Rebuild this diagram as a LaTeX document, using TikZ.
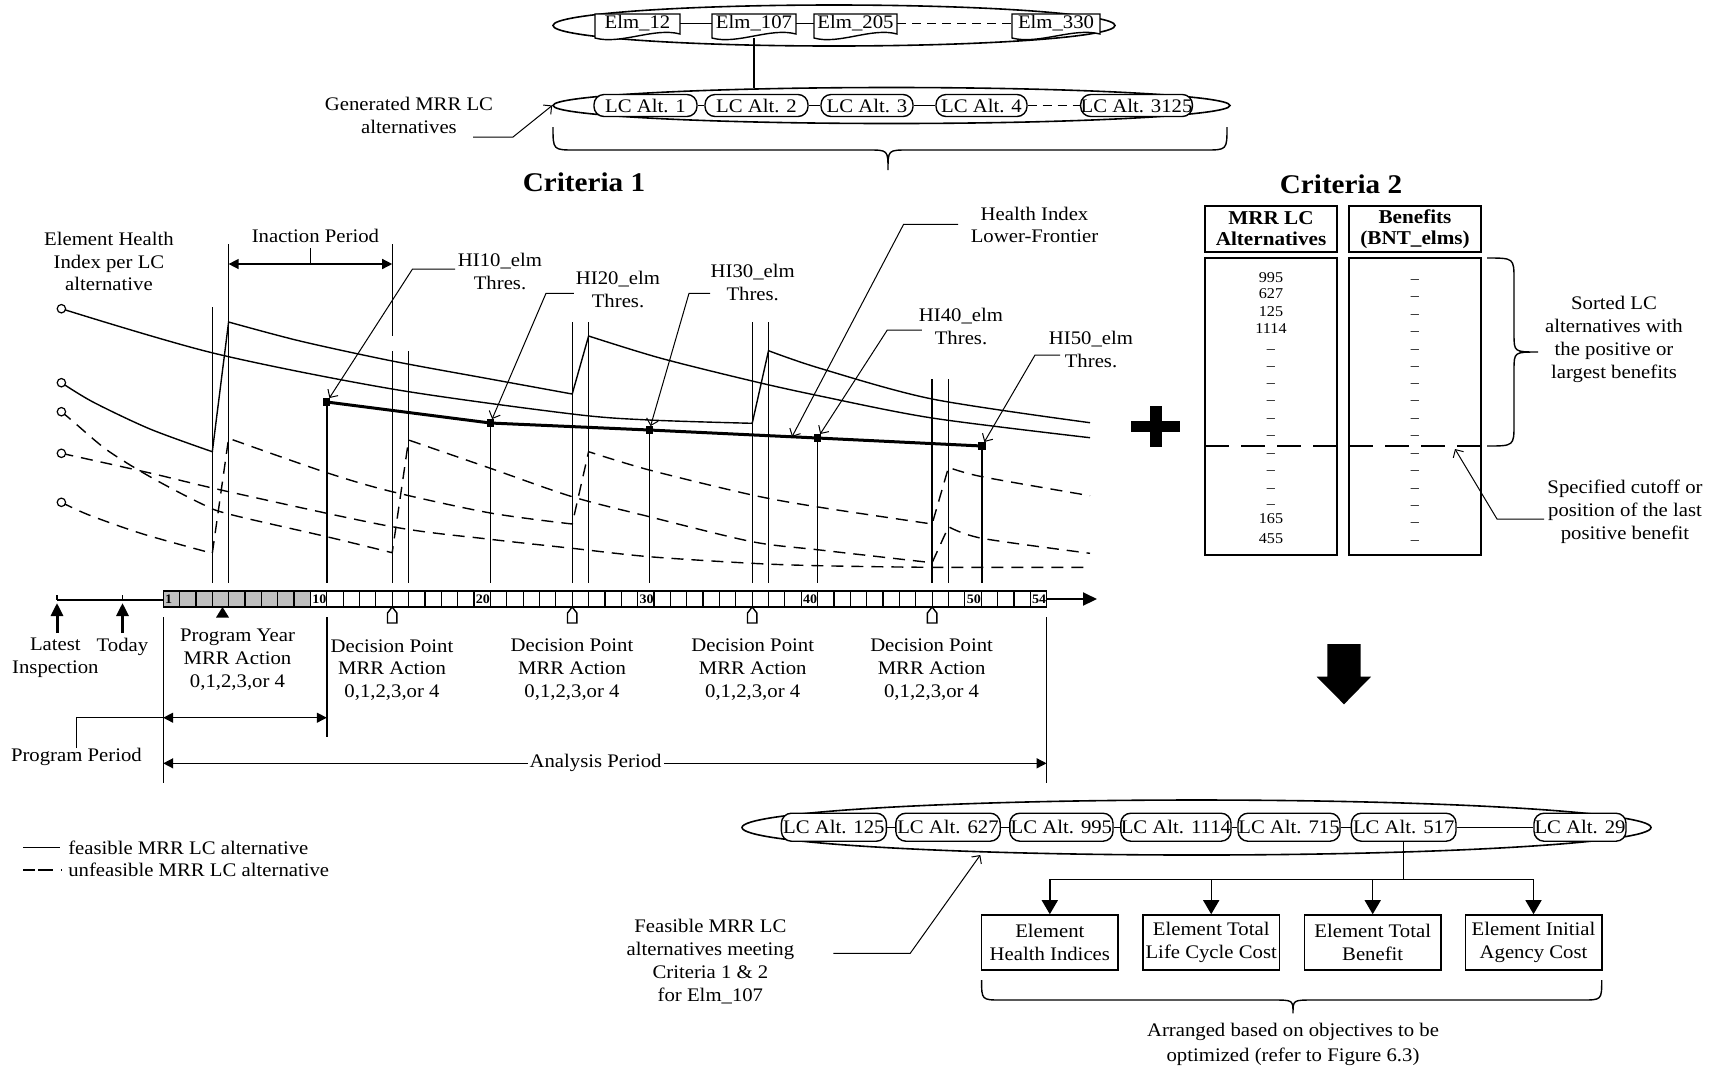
\documentclass[tikz,border=0pt]{standalone}
\usepackage{fontspec}
\setmainfont{Liberation Serif}[FakeStretch=1.08]
\usetikzlibrary{arrows.meta,calc,shapes.geometric}

\definecolor{cellgrey}{RGB}{191,191,191}

% document-shaped box with a wavy lower edge: name, centre x, centre y, width, height, text
\newcommand{\docbox}[6]{%
  \draw[ln,fill=white] ({#2-#4/2},{#3-#5/2}) -- ({#2+#4/2},{#3-#5/2})
    -- ({#2+#4/2},{#3+#5/2-3})
    .. controls ({#2+#4/5},{#3+#5/2-10}) and ({#2-#4/5},{#3+#5/2+8}) ..
    ({#2-#4/2},{#3+#5/2+1}) -- cycle;
  \node[minimum width={#4*0.5pt},minimum height={#5*0.5pt}] (#1) at (#2,{#3-2}) {#6};}

\begin{document}
\begin{tikzpicture}[x=0.5pt,y=-0.5pt,
  every node/.style={font=\fontsize{9.6}{11.4}\selectfont,align=center,inner sep=0pt},
  ln/.style={line width=0.7pt},
  vline/.style={line width=0.7pt},
  feas/.style={line width=0.7pt},
  infeas/.style={line width=0.7pt,dash pattern=on 6pt off 4pt},
  lcbox/.style={draw,line width=0.7pt,fill=white,rounded corners=5pt,minimum height=11pt},
  lcboxb/.style={lcbox,minimum height=14pt},
  ellip/.style={draw,line width=0.8pt,ellipse,inner sep=0pt},
  leader/.style={line width=0.5pt,-{Straight Barb[length=3pt,width=6pt]}},
  tri/.style={-{Triangle[length=7pt,width=8pt]}},
  dtri/.style={{Triangle[length=5pt,width=5pt]}-{Triangle[length=5pt,width=5pt]}},
  hisq/.style={fill=black,minimum size=3.6pt,inner sep=0pt},
  hcirc/.style={circle,draw,fill=white,line width=0.6pt,minimum size=4.2pt},
  lbl/.style={font=\bfseries\fontsize{6.5}{6.5}\selectfont},
  num/.style={font=\fontsize{7.5}{7.5}\selectfont},
  hdr/.style={draw,line width=0.8pt,font=\bfseries\fontsize{9.8}{10.5}\selectfont,minimum width=66pt,minimum height=23pt},
  colbox/.style={draw,line width=0.8pt,minimum width=66pt,minimum height=148.5pt},
  objbox/.style={draw,line width=0.8pt,minimum width=68.2pt,minimum height=27.5pt},
  crit/.style={font=\bfseries\fontsize{13.5}{16}\selectfont},
]
\useasboundingbox (0,0) rectangle (1711,1078);

% ---------------- elements and their generated alternatives ----------------
\node[ellip,minimum width=281pt,minimum height=20.5pt] (elmell) at (834,25.5) {};
\docbox{e12}{637.5}{25.5}{85}{23}{Elm\_12}
\docbox{e107}{754}{25.5}{84}{23}{Elm\_107}
\docbox{e205}{855.5}{25.5}{83}{23}{Elm\_205}
\docbox{e330}{1056}{25.5}{88}{23}{Elm\_330}
\draw[ln] (e12.east) -- (e107.west);
\draw[ln] (e107.east) -- (e205.west);
\draw[ln,dash pattern=on 4.5pt off 3pt] (e205.east) -- (e330.west);

\node[ellip,minimum width=338.5pt,minimum height=18pt] (lcell) at (891.5,105.5) {};
\draw[ln] (754,38) -- (754,87.5);
\node[lcbox,minimum width=51.5pt] (lc1) at (645.5,105.5) {LC Alt. 1};
\node[lcbox,minimum width=51.5pt] (lc2) at (756.5,105.5) {LC Alt. 2};
\node[lcbox,minimum width=46pt] (lc3) at (867,105.5) {LC Alt. 3};
\node[lcbox,minimum width=45.5pt] (lc4) at (981.5,105.5) {LC Alt. 4};
\node[lcbox,minimum width=54.5pt] (lc3125) at (1136.5,105.5) {LC Alt. 3125};
\draw[ln] (lc1.east) -- (lc2.west);
\draw[ln] (lc2.east) -- (lc3.west);
\draw[ln] (lc3.east) -- (lc4.west);
\draw[ln,dash pattern=on 4.5pt off 3pt] (lc4.east) -- (lc3125.west);

\node (gentxt) at (409,115.5) {Generated MRR LC\\alternatives};
\coordinate (genA) at (473,137);
\draw[leader] (genA) -- (513,137) -- (lcell.west);

\draw[ln] (553,127) .. controls (553,150) .. (575,150) -- (868,150)
  .. controls (888,150) .. (888,170) .. controls (888,150) .. (908,150)
  -- (1205,150) .. controls (1227,150) .. (1227,127);

\node[crit] (crit1) at (584,182) {Criteria 1};
\node[crit] (crit2) at (1341,184) {Criteria 2};

% ---------------- criteria 1: health index profiles ----------------
\coordinate (gbase) at (0,583);
\node (ehi) at (109,261.5) {Element Health\\Index per LC\\alternative};
\node (inact) at (315.4,235.7) {Inaction Period};
\draw[ln,dtri] (228.6,264) -- (392.2,264);
\draw[ln] (310.7,248) -- (310.7,264);
\draw[vline] (392.2,244) -- (392.2,336);

\foreach \x/\yt in {212.3/307,228.6/244,392.2/351,408.6/351,572.2/322,588.6/322,752.2/322,768.5/322,932.1/379,948.5/379}
  \draw[vline] (\x,\yt) -- (\x,583);

% feasible alternatives
\draw[feas] plot[smooth,tension=0.5] coordinates {(61.4,308.7) (213,353) (392.2,389) (572.2,414) (649.3,420) (752.2,423.3)}
  -- plot[smooth,tension=0.5] coordinates {(768.5,350.7) (820,368.3) (932.1,399) (1090,422.7)};
\draw[feas] plot[smooth,tension=0.5] coordinates {(61.4,382.7) (93,402) (150,429) (212.3,451.7)}
  -- plot[smooth,tension=0.5] coordinates {(228.6,322) (300,341) (392.2,361) (490,379) (572.2,394)}
  -- plot[smooth,tension=0.5] coordinates {(588.6,336) (660,358) (752.2,381) (820,396) (932.1,418) (1090,437.7)};

% unfeasible alternatives
\draw[infeas] plot[smooth,tension=0.5] coordinates {(61.4,411.7) (71.4,420) (107,450) (150,476.7) (200,503) (228.6,514) (326.8,536.7) (392.2,552.7)}
  -- plot[smooth,tension=0.5] coordinates {(408.6,440) (490.4,468.3) (572.2,496.7) (649.3,516.7) (752.2,541.7) (820,550) (932.1,562.7)}
  -- plot[smooth,tension=0.5] coordinates {(948.5,526.7) (982,538.3) (1090,553.3)};
\draw[infeas] plot[smooth,tension=0.5] coordinates {(61.4,453.3) (150,473) (228.6,491.7) (392.2,526.7) (490.4,539.3) (572.2,548.3) (649.3,556.7) (752.2,563.3) (820,565.7) (932.1,567.3) (1090,567.3)};
\draw[infeas] plot[smooth,tension=0.5] coordinates {(61.4,502.3) (89,515) (143,534) (212.3,553.3)}
  -- plot[smooth,tension=0.5] coordinates {(228.6,438.3) (326.8,472.7) (392.2,491.7) (490.4,513) (572.2,524)}
  -- plot[smooth,tension=0.5] coordinates {(588.6,451.7) (649.3,470) (752.2,495) (820,507.3) (932.1,524)}
  -- plot[smooth,tension=0.5] coordinates {(948.5,467.3) (982,476.7) (1090,495.7)};

\node[hcirc] (c1) at (61.4,308.7) {};
\node[hcirc] (c2) at (61.4,382.7) {};
\node[hcirc] (c3) at (61.4,411.7) {};
\node[hcirc] (c4) at (61.4,453.3) {};
\node[hcirc] (c5) at (61.4,502.3) {};

% health index lower frontier
\node[hisq] (m10) at (326.8,402) {};
\node[hisq] (m20) at (490.4,423) {};
\node[hisq] (m30) at (649.4,430) {};
\node[hisq] (m40) at (817.6,438) {};
\node[hisq] (m50) at (982,446) {};
\foreach \m in {m10,m20,m30,m40,m50}
  \draw[vline] (\m.center) -- (\m.center |- gbase);
\draw[line width=1.5pt] (m10.center) -- (m20.center) -- (m30.center) -- (m40.center) -- (m50.center);

\node (hi10) at (500,271.3) {HI10\_elm\\Thres.};
\draw[leader] (455,269) -- (412.5,269) -- (m10);
\node (hi20) at (618,289.2) {HI20\_elm\\Thres.};
\draw[leader] (573.8,293.3) -- (546,293.3) -- (m20);
\node (hi30) at (752.7,282.5) {HI30\_elm\\Thres.};
\draw[leader] (710,293.3) -- (689,293.3) -- (m30);
\node (hfront) at (1034.5,225) {Health Index\\Lower-Frontier};
\draw[leader] (958,224.3) -- (903.6,224.3) -- ($(m30)!0.848!(m40)$);
\node (hi40) at (961,326.4) {HI40\_elm\\Thres.};
\draw[leader] (921.8,330) -- (887.3,330) -- (m40);
\node (hi50) at (1091,349.5) {HI50\_elm\\Thres.};
\draw[leader] (1060,355) -- (1035,355) -- (m50);

% ---------------- time line ----------------
\draw[line width=1pt] (57,600) -- (163.2,600);
\draw[line width=1pt,-{Triangle[length=7pt,width=6.5pt]}] (1046.6,599) -- (1097,599);
\draw[ln] (57,595) -- (57,600);
\draw[ln] (122.5,595) -- (122.5,600);
\draw[line width=1.5pt,-{Triangle[length=6.5pt,width=6pt]}] (57,633) -- (57,603);
\draw[line width=1.5pt,-{Triangle[length=6.5pt,width=6pt]}] (122.5,633) -- (122.5,603);

\fill[cellgrey] (163.2,591) rectangle (310.44,607);
\foreach \i in {1,...,54}
  \draw[line width=0.6pt] ({163.2+(\i-1)*16.36},591) rectangle ++(16.36,16);
\foreach \n in {1,10,20,30,40,50,54}
  \node[lbl,anchor=west] (tl\n) at ({163.2+(\n-1)*16.36+1.5},599.5) {\n};

\fill (216,617.5) -- (222.5,607) -- (229,617.5) -- cycle;
\foreach \x in {392.2,572.2,752.2,932.1}
  \draw[ln,fill=white] ({\x-4.7},623) -- ({\x-4.7},613) -- (\x,607) -- ({\x+4.7},613) -- ({\x+4.7},623) -- cycle;

\node (latest) at (55.4,658) {Latest\\Inspection};
\node (today) at (122.5,646.7) {Today};
\node (pyear) at (237.5,659.8) {Program Year\\MRR Action\\0,1,2,3,or 4};
\node (dp1) at (392,670) {Decision Point\\MRR Action\\0,1,2,3,or 4};
\node (dp2) at (572,669.5) {Decision Point\\MRR Action\\0,1,2,3,or 4};
\node (dp3) at (752.7,669.5) {Decision Point\\MRR Action\\0,1,2,3,or 4};
\node (dp4) at (931.6,669.5) {Decision Point\\MRR Action\\0,1,2,3,or 4};

% ---------------- program and analysis periods ----------------
\draw[vline] (163.2,617) -- (163.2,783.3);
\draw[vline] (326.8,617) -- (326.8,736.7);
\draw[vline] (1046.6,617) -- (1046.6,783.3);
\node (ppd) at (76.4,757.3) {Program Period};
\draw[ln] (ppd.north) -- (ppd.north |- 0,717.7) -- (163.2,717.7);
\draw[ln,dtri] (163.2,717.7) -- (326.8,717.7);
\draw[ln,dtri] (163.2,763.3) -- (1046.6,763.3);
\node[fill=white,inner xsep=1pt] (apd) at (595.6,763.3) {Analysis Period};

% legend
\draw[ln] (23,847.7) -- (59.7,847.7);
\node[anchor=west] (lg1) at (67.9,847.7) {feasible MRR LC alternative};
\draw[ln,dash pattern=on 6pt off 1.5pt on 7.5pt off 4pt on 0.6pt off 10pt] (23,870) -- (62.6,870);
\node[anchor=west] (lg2) at (67.9,870) {unfeasible MRR LC alternative};

% ---------------- criteria 2: sorted benefits ----------------
\node[hdr] (h1) at (1271,229) {MRR LC\\Alternatives};
\node[hdr] (h2) at (1415,229) {Benefits\\(BNT\_elms)};
\node[colbox] (k1) at (1271,406.5) {};
\node[colbox] (k2) at (1415,406.5) {};
\foreach \y/\t [count=\k] in {278/995,294/627,312/125,329/1114,352/–,369/–,386/–,403/–,421/–,438/–,456/–,473/–,491/–,507/–,519/165,539/455}
  \node[num] (a\k) at (1271,\y) {\t};
\foreach \y [count=\k] in {282,299,317,334,352,369,386,403,421,438,456,473,491,508,525,543}
  \node[num] (b\k) at (1415,\y) {–};
\coordinate (cut) at (1205,446);
\draw[line width=0.8pt,dash pattern=on 12pt off 6pt] (cut) -- (1487,446);
\draw[ln] (1487,258) .. controls (1514,258) .. (1514,280) -- (1514,334)
  .. controls (1514,352) .. (1538,352) .. controls (1514,352) .. (1514,370)
  -- (1514,424) .. controls (1514,446) .. (1487,446);
\node (sorted) at (1614,339.5) {Sorted LC\\alternatives with\\the positive or\\largest benefits};
\node (cutoff) at (1625,511.5) {Specified cutoff or\\position of the last\\positive benefit};
\draw[leader] (1544,519) -- (1497,519) -- (1455,449);

% plus sign and down arrow
\fill (1131,421) rectangle (1180,432);
\fill (1150,406) rectangle (1162,447);
\fill (1327.3,644) -- (1360.7,644) -- (1360.7,676.7) -- (1371,676.7) -- (1344,704.3)
  -- (1316.7,676.7) -- (1327.3,676.7) -- cycle;

% ---------------- feasible alternatives meeting both criteria ----------------
\node[ellip,minimum width=454.5pt,minimum height=27.5pt] (fell) at (1196.5,827.5) {};
\node[lcboxb,minimum width=52.5pt] (f125) at (833.9,827.2) {LC Alt. 125};
\node[lcboxb,minimum width=52.2pt] (f627) at (948,827.2) {LC Alt. 627};
\node[lcboxb,minimum width=51.6pt] (f995) at (1061.4,827.2) {LC Alt. 995};
\node[lcboxb,minimum width=52.9pt] (f1114) at (1175.9,827.2) {LC Alt. 1114};
\node[lcboxb,minimum width=51pt] (f715) at (1289,827.2) {LC Alt. 715};
\node[lcboxb,minimum width=52.3pt] (f517) at (1403.7,827.2) {LC Alt. 517};
\node[lcboxb,minimum width=46pt] (f29) at (1580,827.2) {LC Alt. 29};
\draw[ln] (f125.east) -- (f627.west);
\draw[ln] (f627.east) -- (f995.west);
\draw[ln] (f995.east) -- (f1114.west);
\draw[ln] (f1114.east) -- (f715.west);
\draw[ln] (f715.east) -- (f517.west);
\draw[ln] (f517.east) -- (f29.west);

\node[objbox] (o1) at (1049.8,942.5) {Element\\Health Indices};
\node[objbox] (o2) at (1211.2,942.5) {Element Total\\Life Cycle Cost};
\node[objbox] (o3) at (1372.7,942.5) {Element Total\\Benefit};
\node[objbox] (o4) at (1533.5,942.5) {Element Initial\\Agency Cost};
\coordinate (split) at (1404.6,879.3);
\draw[ln] (f517.south) -- (f517.south |- split);
\draw[ln] (o1.north |- split) -- (o4.north |- split);
\foreach \o in {o1,o2,o3,o4}
  \draw[ln,tri] (\o.north |- split) -- (\o.north);

\draw[ln] (981.6,980) .. controls (981.6,1000) .. (1001.6,1000) -- (1273,1000)
  .. controls (1293,1000) .. (1293,1013.3) .. controls (1293,1000) .. (1313,1000)
  -- (1581.7,1000) .. controls (1601.7,1000) .. (1601.7,980);
\node[font=\fontsize{9.6}{12.5}\selectfont] (arrtxt) at (1293,1044.2) {Arranged based on objectives to be\\optimized (refer to Figure 6.3)};

\node (feastxt) at (710.4,961.4) {Feasible MRR LC\\alternatives meeting\\Criteria 1 \& 2\\for Elm\_107};
\draw[leader] (833.3,953.3) -- (910.2,953.3) -- (980.3,855);

\end{tikzpicture}
\end{document}
